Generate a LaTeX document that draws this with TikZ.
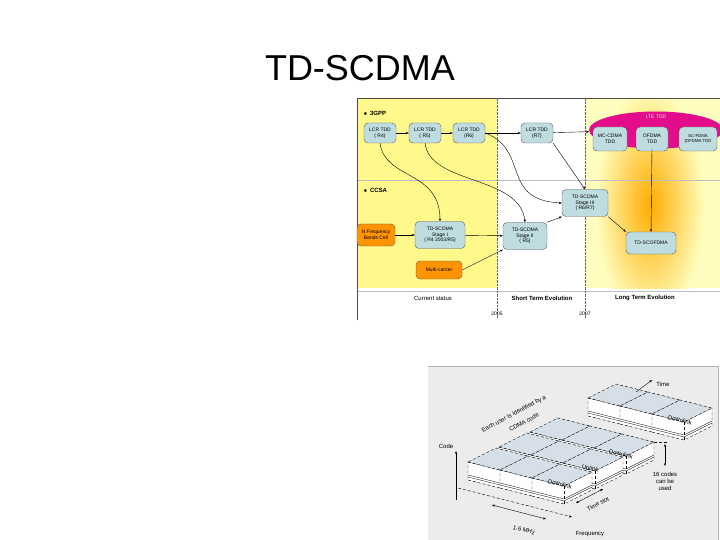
\documentclass[tikz,border=0pt]{standalone}
\usepackage{fontspec}
\setmainfont{Liberation Sans}
\usetikzlibrary{arrows.meta,shapes.geometric}
\definecolor{nodeblue}{HTML}{BFDDE0}
\definecolor{tileblue}{HTML}{D6DEE8}
\begin{document}
\begin{tikzpicture}[x=1pt,y=-1pt,
  bn/.style={draw=gray!70!black,fill=nodeblue,rounded corners=4pt,align=center,font=\fontsize{5}{5.6}\selectfont,inner sep=1pt},
  on/.style={bn,fill=orange!85!yellow},
  ar/.style={-{Stealth[length=3pt]},black,thin},
  tl/.style={font=\fontsize{5}{5.6}\selectfont,text=white!85!magenta},
  small/.style={font=\fontsize{6}{7}\selectfont,align=center}]
\useasboundingbox (0,0) rectangle (720,540);
\node[font=\fontsize{36}{40}\selectfont] (title) at (360,68) {TD-SCDMA};
% ---------- top diagram ----------
\fill[yellow!45] (358,99) rectangle (497,288);
\begin{scope}
\clip (585,99) rectangle (720,288);
\fill[yellow!25] (585,99) rectangle (720,288);
\shade[inner color=orange!65!yellow,outer color=yellow!25] (650,205) ellipse (55 and 120);
\end{scope}
\draw[gray!50] (358,180) -- (720,180);
\draw[gray!50] (358,291) -- (720,291);
\draw[densely dotted,gray!80!black] (497,99) -- (497,318);
\draw[densely dotted,gray!80!black] (585,99) -- (585,318);
\draw[gray!60!black] (357.5,320) -- (357.5,98.5) -- (720,98.5);
\node[font=\fontsize{6}{7}\selectfont\bfseries,anchor=west] (g3) at (360,113) {$\bullet$\, 3GPP};
\node[font=\fontsize{6}{7}\selectfont\bfseries,anchor=west] (cc) at (360,190) {$\bullet$\, CCSA};
\begin{scope}
\clip (585,99) rectangle (720,288);
\node[draw=none,fill=magenta!90!violet,ellipse,minimum width=134pt,minimum height=37pt] (lte) at (656,130) {};
\end{scope}
\node[tl] (ltel) at (656,117) {LTE TDD};
\node[bn,minimum width=32pt,minimum height=20pt] (r4) at (380,133) {LCR TDD\\( R4)};
\node[bn,minimum width=32pt,minimum height=20pt] (r5) at (425,133) {LCR TDD\\( R5)};
\node[bn,minimum width=32pt,minimum height=20pt] (r6) at (469,133) {LCR TDD\\(R6)};
\node[bn,minimum width=32pt,minimum height=20pt] (r7) at (537,133) {LCR TDD\\(R7)};
\node[bn,minimum width=34pt,minimum height=24pt] (mc) at (610,139) {MC-CDMA\\TDD};
\node[bn,minimum width=32pt,minimum height=24pt] (of) at (652,139) {OFDMA\\TDD};
\node[bn,minimum width=38pt,minimum height=24pt,font=\fontsize{4.3}{5}\selectfont] (sc) at (698,139) {SC-FDMA\\(OFDMA TDD};
\node[bn,minimum width=46pt,minimum height=27pt] (s3) at (585,203) {TD-SCDMA\\Stage III\\( R6/R7)};
\node[bn,minimum width=50pt,minimum height=27pt] (s1) at (440,235) {TD-SCDMA\\Stage I\\( R4 2003/R5)};
\node[on,minimum width=38pt,minimum height=22pt] (nf) at (376,235) {N Frequency\\Bands Cell};
\node[bn,minimum width=44pt,minimum height=27pt] (s2) at (525,236) {TD-SCDMA\\Stage II\\( R5)};
\node[on,minimum width=46pt,minimum height=18pt] (mu) at (439,270) {Multi-carrier};
\node[bn,minimum width=50pt,minimum height=22pt] (sof) at (651,243) {TD-SCOFDMA};
\draw[ar] (r4) -- (r5);
\draw[ar] (r5) -- (r6);
\draw[ar] (r6) -- (r7);
\draw[ar] (r7) -- (lte);
\draw[ar] (r4.south) .. controls (385,180) and (440,170) .. (s1.north);
\draw[ar] (r5.south) .. controls (430,185) and (520,175) .. (s2.north);
\draw[ar] (r6.east) .. controls (530,150) and (500,200) .. (s3.west);
\draw[ar] (r7.south east) -- (s3.north);
\draw[ar] (nf) -- (s1);
\draw[ar] (s1) -- (s2);
\draw[ar] (mu.east) -- (s2.south west);
\draw[ar] (s2.north east) -- (s3.south west);
\draw[ar] (s3.south east) -- (sof.north west);
\draw[ar] (of.south |- lte.south) -- (sof.north);
\node[font=\fontsize{6}{7}\selectfont] (cs) at (433,298) {Current status};
\node[font=\fontsize{6}{7}\selectfont\bfseries] (st) at (542,298) {Short Term Evolution};
\node[font=\fontsize{6}{7}\selectfont\bfseries] (lt) at (645,298) {Long Term Evolution};
\node[font=\fontsize{5}{6}\selectfont] (y5) at (497,314) {2005};
\node[font=\fontsize{5}{6}\selectfont] (y7) at (585,314) {2007};
% ---------- bottom diagram ----------
\fill[gray!15] (428,366) rectangle (718,540);
\draw[gray!60] (428,366.5) -- (718,366.5) -- (718,540);
\def\blk(#1,#2){%
  \filldraw[fill=white,draw=black,densely dashed,line width=0.4pt] (#1,#2+18) -- ++(32,8) -- ++(28,-14) -- ++(0,-18) -- ++(-28,14) -- ++(-32,-8) -- cycle;
  \draw[black,line width=0.3pt] (#1,#2+15) -- ++(32,8) -- ++(28,-14);
  \draw[black,line width=0.3pt] (#1,#2+13) -- ++(32,8) -- ++(28,-14);
  \draw[black,densely dashed,line width=0.3pt] (#1+32,#2+8) -- ++(0,18);
  \filldraw[fill=tileblue,draw=black,densely dashed,line width=0.4pt] (#1,#2) -- ++(32,8) -- ++(28,-14) -- ++(-32,-8) -- cycle;}
% back group
\blk(588,398) \blk(620,406) \blk(652,414)
% front group, rows back to front
\blk(530,432) \blk(562,440) \blk(594,448)
\blk(499,447) \blk(531,455) \blk(563,463)
\blk(468,462) \blk(500,470) \blk(532,478)
\node[font=\fontsize{6}{7}\selectfont,rotate=-14] (d1) at (560,484) {Downlink};
\node[font=\fontsize{6}{7}\selectfont,rotate=-14] (u1) at (590,469) {Uplink};
\node[font=\fontsize{6}{7}\selectfont,rotate=-14] (d2) at (621,454) {Downlink};
\node[font=\fontsize{6}{7}\selectfont,rotate=-14] (d3) at (680,420) {Downlink};
\coordinate (ta) at (636,392);
\coordinate (tb) at (652,380);
\draw[-{Stealth[length=3pt]}] (ta) -- (tb);
\node[font=\fontsize{6}{7}\selectfont] (time) at (663,384) {Time};
\coordinate (ca) at (456,500);
\coordinate (cb) at (456,451);
\draw[-{Stealth[length=3pt]}] (ca) -- (cb);
\node[font=\fontsize{6}{7}\selectfont] (code) at (446,446) {Code};
\node[font=\fontsize{6}{7}\selectfont,rotate=28] (each1) at (514,414) {Each user is identified by a};
\node[font=\fontsize{6}{7}\selectfont,rotate=28] (each2) at (524,422) {CDMA code};
\coordinate (fa) at (458,488);
\coordinate (fb) at (572,517);
\draw[densely dashed,-{Stealth[length=3pt]}] (fa) -- (fb);
\coordinate (ma) at (492,505);
\coordinate (mb) at (546,519);
\draw[{Stealth[length=3pt]}-{Stealth[length=3pt]}] (ma) -- (mb);
\node[font=\fontsize{6}{7}\selectfont,rotate=-15] (mhz) at (524,530) {1.6 MHz};
\coordinate (sa) at (576,503);
\coordinate (sb) at (603,489);
\draw[{Stealth[length=3pt]}-{Stealth[length=3pt]}] (sa) -- (sb);
\node[font=\fontsize{6}{7}\selectfont,rotate=28] (tsl) at (598,504) {Time slot};
\node[font=\fontsize{6}{7}\selectfont] (freq) at (590,534) {Frequency};
\coordinate (ka) at (665,444);
\coordinate (kb) at (665,466);
\draw[{Stealth[length=3pt]}-{Stealth[length=3pt]}] (ka) -- (kb);
\draw[densely dashed] (654,442) -- (668,442);
\node[small] (cod) at (665,481) {16 codes\\can be\\used};
\end{tikzpicture}
\end{document}
